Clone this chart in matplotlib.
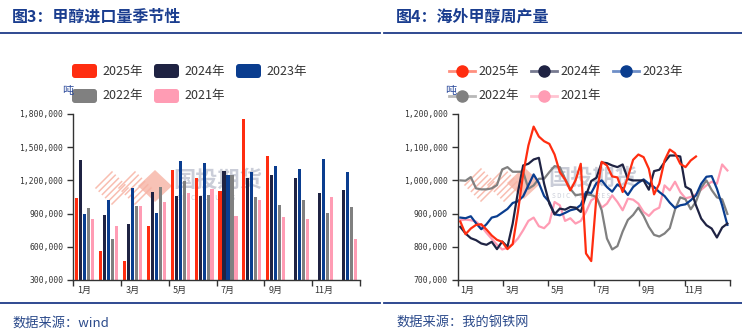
import numpy as np
import matplotlib
matplotlib.use("Agg")
import matplotlib.pyplot as plt
from matplotlib.patches import FancyBboxPatch, Polygon
from matplotlib.lines import Line2D
from matplotlib.ticker import FuncFormatter, FixedLocator
from matplotlib.transforms import IdentityTransform

plt.rcParams['font.family'] = ['Noto Sans CJK SC', 'DejaVu Sans']

# ---- data: monthly methanol imports (tonnes) ----
months = ["1月", "2月", "3月", "4月", "5月", "6月", "7月", "8月", "9月", "10月", "11月", "12月"]
nan = np.nan
imp_2025 = [1041000, 561000, 471000, 786000, 1290000, 1218000, 1101000, 1755000, 1422000, nan, nan, nan]
imp_2024 = [1380000, 891000, 810000, 1092000, 1062000, 1056000, 1287000, 1218000, 1245000, 1224000, 1083000, 1116000]
imp_2023 = [897000, 1020000, 1131000, 903000, 1374000, 1359000, 1248000, 1278000, 1329000, 1302000, 1392000, 1278000]
imp_2022 = [951000, 675000, 966000, 1137000, 1197000, 1068000, 1245000, 1053000, 981000, 1020000, 903000, 963000]
imp_2021 = [852000, 792000, 966000, 1008000, 1083000, 1119000, 882000, 1020000, 873000, 852000, 1053000, 675000]

# ---- data: overseas weekly methanol output (tonnes), 52 weeks ----
wk_2025 = [876000, 838000, 855000, 866000, 868000, 852000, 834000, 821000, 815000, 793000,
           808000, 905000, 1020000, 1105000, 1162000, 1132000, 1118000, 1110000, 1078000, 1025000,
           1003000, 970000, 1000000, 1050000, 780000, 757000, 953000, 1056000, 1045000, 1012000,
           1009000, 965000, 1010000, 1062000, 1078000, 1070000, 1035000, 958000, 990000, 1060000,
           1093000, 1082000, 1050000, 1040000, 1060000, 1072000, nan, nan, nan, nan, nan, nan]
wk_2024 = [860000, 840000, 826000, 820000, 810000, 806000, 815000, 793000, 816000, 800000,
           870000, 965000, 1045000, 1050000, 1063000, 1068000, 990000, 930000, 898000, 915000,
           912000, 920000, 918000, 905000, 955000, 998000, 1008000, 1054000, 1052000, 1045000,
           1040000, 1048000, 1004000, 1000000, 1000000, 1000000, 972000, 1028000, 1032000, 1055000,
           1075000, 1075000, 1072000, 981000, 972000, 925000, 885000, 865000, 855000, 828000,
           858000, 870000]
wk_2023 = [888000, 886000, 892000, 871000, 853000, 868000, 888000, 892000, 903000, 914000,
           932000, 937000, 952000, 985000, 1018000, 992000, 953000, 935000, 898000, 895000,
           902000, 910000, 914000, 926000, 965000, 962000, 992000, 1000000, 980000, 966000,
           988000, 976000, 956000, 980000, 993000, 1003000, 990000, 980000, 965000, 953000,
           933000, 917000, 925000, 928000, 940000, 955000, 990000, 1011000, 1013000, 975000,
           925000, 866000]
wk_2022 = [1000000, 999000, 1010000, 976000, 973000, 973000, 976000, 986000, 1033000, 1040000,
           1026000, 1026000, 1026000, 975000, 985000, 1005000, 1005000, 1025000, 1043000, 1040000,
           1005000, 975000, 955000, 958000, 958000, 956000, 950000, 910000, 825000, 792000,
           802000, 846000, 881000, 896000, 918000, 893000, 860000, 836000, 831000, 840000,
           856000, 912000, 949000, 943000, 913000, 936000, 978000, 1000000, 971000, 949000,
           943000, 899000]
wk_2021 = [880000, 882000, 880000, 876000, 862000, 842000, 824000, 806000, 792000, 797000,
           808000, 825000, 850000, 878000, 888000, 862000, 856000, 872000, 935000, 925000,
           878000, 886000, 870000, 878000, 905000, 940000, 950000, 918000, 930000, 955000,
           935000, 910000, 945000, 942000, 930000, 905000, 893000, 910000, 918000, 985000,
           970000, 996000, 965000, 946000, 950000, 958000, 972000, 985000, 996000, 990000,
           1048000, 1030000]

years = ["2025年", "2024年", "2023年", "2022年", "2021年"]
colors = ['#ff2d10', '#1f2343', '#0a3d8f', '#808080', '#ff9cb4']
light = ['#ff8f7e', '#777a90', '#6f8fc8', '#b8b8b8', '#ffc4d2']
title_col = '#1a3d8f'
W, H = 742, 335

fig = plt.figure(figsize=(W / 100, H / 100), dpi=100)
fig.patch.set_facecolor('white')
px = IdentityTransform()


def P(x, y):  # reference pixel coords (top-left origin) -> display coords
    return x, H - y


def style_axes(ax):
    for s in ['top', 'right']:
        ax.spines[s].set_visible(False)
    for s in ['left', 'bottom']:
        ax.spines[s].set_color('#333333')
        ax.spines[s].set_linewidth(1)
    ax.tick_params(axis='y', which='major', direction='out', length=4, width=1, color='#333333',
                   labelsize=5.8, labelcolor='#333333', pad=3)
    ax.yaxis.set_major_formatter(FuncFormatter(lambda v, p: f"{int(v):,}"))
    ax.tick_params(axis='x', which='major', direction='out', length=4, width=1, color='#333333', labelsize=0)
    ax.tick_params(axis='x', which='minor', length=0, labelsize=6.5, labelcolor='#333333', pad=4)
    ax.set_facecolor('none')
    for lab in ax.get_yticklabels():
        lab.set_family('DejaVu Sans Mono')


# ================= left: 图3 甲醇进口量季节性 =================
ax1 = fig.add_axes([73 / W, (H - 280) / H, 287 / W, 166 / H])
series_bar = [imp_2025, imp_2024, imp_2023, imp_2022, imp_2021]
x = np.arange(12)
for k, (vals, c) in enumerate(zip(series_bar, colors)):
    v = np.array(vals, dtype=float)
    ax1.bar(x + 0.48 + (k - 2) * 0.167, v - 300000, bottom=300000, width=0.13, color=c, zorder=2)
ax1.set_xlim(0, 12)
ax1.set_ylim(300000, 1800000)
ax1.set_yticks([300000, 600000, 900000, 1200000, 1500000, 1800000])
ax1.set_xticks(np.arange(0, 13, 2))
ax1.xaxis.set_minor_locator(FixedLocator(np.arange(0, 12, 2) + 0.48))
ax1.set_xticklabels([''] * 7)
ax1.set_xticklabels(months[::2], minor=True)
style_axes(ax1)

# ================= right: 图4 海外甲醇周产量 =================
ax2 = fig.add_axes([457.7 / W, (H - 280) / H, 272.3 / W, 166 / H])
series_line = [wk_2025, wk_2024, wk_2023, wk_2022, wk_2021]
wx = (np.arange(52) + 0.5) * 12 / 52
order = [3, 4, 2, 1, 0]  # draw 2025 on top
for k in order:
    ax2.plot(wx, np.array(series_line[k], dtype=float), color=colors[k], lw=1.6, zorder=2 + (4 - k))
ax2.set_xlim(0, 12)
ax2.set_ylim(700000, 1200000)
ax2.set_yticks([700000, 800000, 900000, 1000000, 1100000, 1200000])
ax2.set_xticks(np.arange(0, 13, 2))
ax2.xaxis.set_minor_locator(FixedLocator(np.arange(0, 12, 2) + 0.42))
ax2.set_xticklabels([''] * 7)
ax2.set_xticklabels(months[::2], minor=True)
style_axes(ax2)

# ---- titles, rules, sources ----
fig.text(*P(12, 17), "图3：甲醇进口量季节性", transform=px, fontsize=11.5, fontweight='bold',
         color=title_col, va='center', ha='left')
fig.text(*P(396, 17), "图4：海外甲醇周产量", transform=px, fontsize=11.5, fontweight='bold',
         color=title_col, va='center', ha='left')
for x0, x1 in [(0, 380), (384, 742)]:
    fig.add_artist(Line2D([x0, x1], [H - 33, H - 33], transform=px, color='#1f3c88', lw=1.3))
    fig.add_artist(Line2D([x0, x1], [H - 303, H - 303], transform=px, color='#1f3c88', lw=1.3))
fig.text(*P(12, 323), "数据来源：wind", transform=px, fontsize=9.5, color='#2b4a8b',
         style='italic', va='center', ha='left')
fig.text(*P(396, 323), "数据来源：我的钢铁网", transform=px, fontsize=9.5, color='#2b4a8b',
         style='italic', va='center', ha='left')

# unit labels
fig.text(*P(62, 91), "吨", transform=px, fontsize=8, color='#2b4a9b', va='center', ha='left')
fig.text(*P(445, 91), "吨", transform=px, fontsize=8, color='#2b4a9b', va='center', ha='left')

# ---- legends ----
slots = [(0, 71), (82, 71), (164, 71), (0, 96), (82, 96)]
for k, (dx, yy) in enumerate(slots):
    # bar legend (rounded swatches)
    bx = 72 + dx
    fig.add_artist(FancyBboxPatch((bx + 3, H - yy - 7 + 3), 19, 8, boxstyle="round,pad=3",
                                  transform=px, facecolor=colors[k], edgecolor='none'))
    fig.text(*P(bx + 30, yy), years[k], transform=px, fontsize=9, color='#333333',
             va='center', ha='left')
    # line legend
    lx = 449 + dx
    fig.add_artist(Line2D([lx, lx + 26], [H - yy, H - yy], transform=px, color=light[k], lw=2))
    fig.add_artist(Line2D([lx + 13], [H - yy], transform=px, marker='o', markersize=8,
                          color=colors[k], lw=0))
    fig.text(*P(lx + 29, yy), years[k], transform=px, fontsize=9, color='#333333',
             va='center', ha='left')

# ---- watermark (国投期货 logo), drawn behind the axes ----
wm = '#f7b3a4'
for cx, cy, tx, ty in [(155, 186, 173, 180), (524, 183, 548, 178)]:
    fig.add_artist(Polygon([P(cx - 17, cy), P(cx, cy - 16), P(cx + 17, cy), P(cx, cy + 16)],
                           closed=True, transform=px, facecolor=wm, edgecolor='none',
                           alpha=0.8, zorder=-2))
    # two striped diamonds to the left of the solid one
    for gx in (cx - 45, cx - 22):
        for j in range(6):
            ox = gx - 6 + j * 3.2
            oy = cy - 6 + j * 3.2
            fig.add_artist(Line2D([ox - 8, ox + 8], [H - oy - 8, H - oy + 8], transform=px,
                                  color=wm, lw=1.1, alpha=0.85, zorder=-2))
    fig.text(*P(tx, ty), "国投期货", transform=px, fontsize=16, fontweight='bold',
             color='#b4b9c8', alpha=0.7, va='center', ha='left', zorder=-1)
    fig.text(*P(tx + 4, ty + 18), "S D I C   F U T U R E S", transform=px, fontsize=4.5,
             color='#b4b9c8', alpha=0.7, va='center', ha='left', zorder=-1)

fig.savefig("out.png", dpi=100, facecolor='white')
